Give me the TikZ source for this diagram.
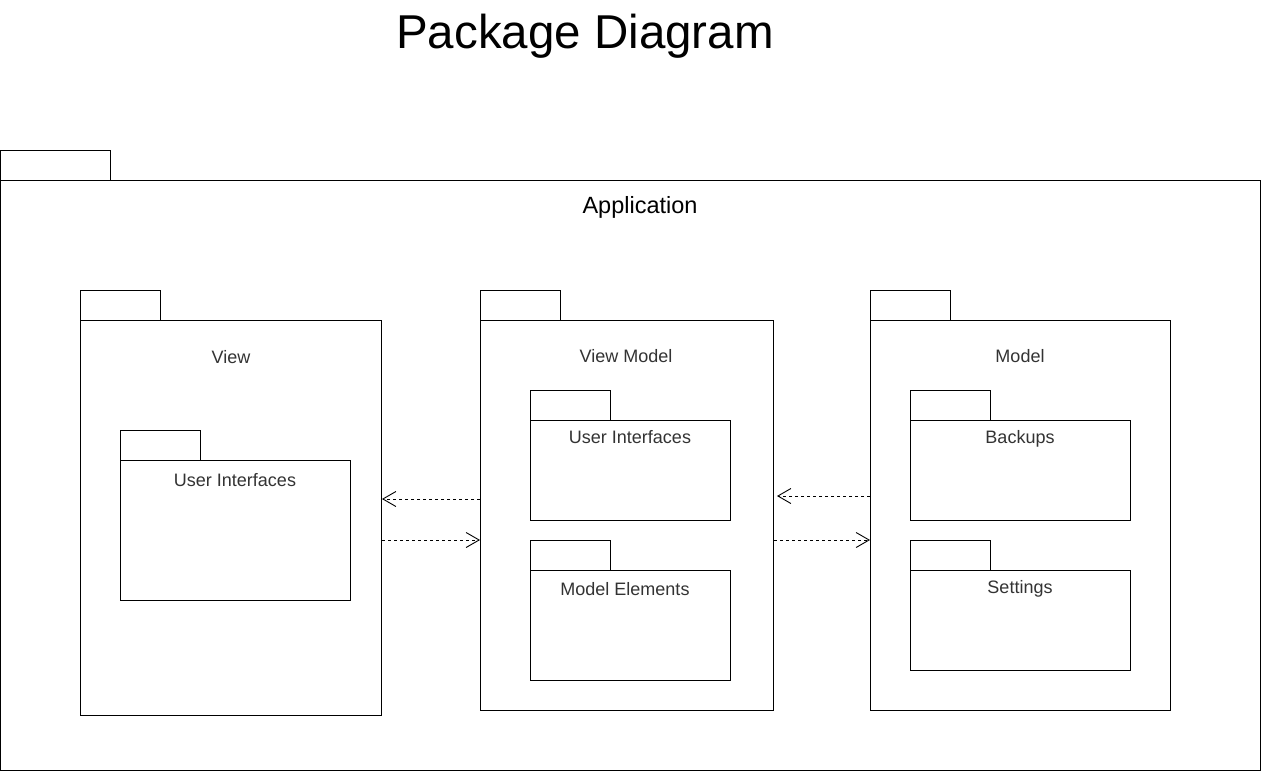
\documentclass[tikz,border=0pt]{standalone}
\usepackage{fontspec}
\setmainfont{Liberation Sans}
\usetikzlibrary{arrows.meta}
\definecolor{lbl}{HTML}{333333}
\tikzset{
  box/.style={draw=black, line width=1pt, inner sep=0pt, anchor=north west, fill=white},
  lab/.style={anchor=base, inner sep=0pt, text=lbl, font=\fontsize{18}{21}\selectfont},
  dep/.style={draw=black, line width=0.9pt, dash pattern=on 3pt off 3pt, -{Straight Barb[length=13pt,width=15pt,line width=0.9pt]}}
}
% \pkg{name}{x}{y of body top}{w}{h}{tab width}
\newcommand{\pkg}[6]{%
  \node[box, minimum width=#6pt, minimum height=30pt] (#1-tab) at (#2pt,-#3pt+30pt) {};
  \node[box, minimum width=#4pt, minimum height=#5pt] (#1) at (#2pt,-#3pt) {};
}
\begin{document}
\begin{tikzpicture}[x=1pt,y=1pt]
\useasboundingbox (0,0) rectangle (1261,-771);
\node[anchor=base, inner sep=0pt, font=\fontsize{47.5}{56}\selectfont] (title) at (585,-48) {Package Diagram};
\pkg{app}{0}{180}{1260}{590}{110}
\node[anchor=base, inner sep=0pt, font=\fontsize{23.5}{28}\selectfont] (applab) at (640,-213) {Application};
% View
\pkg{view}{80}{320}{301}{395}{80}
\node[lab] (viewlab) at (231,-363) {View};
\pkg{vui}{120}{460}{230}{140}{80}
\node[lab] (vuilab) at (235,-486) {User Interfaces};
% View Model
\pkg{vm}{480}{320}{293}{390}{80}
\node[lab] (vmlab) at (626,-362) {View Model};
\pkg{vmui}{530}{420}{200}{100}{80}
\node[lab] (vmuilab) at (630,-443) {User Interfaces};
\pkg{vme}{530}{570}{200}{110}{80}
\node[lab] (vmelab) at (625,-595) {Model Elements};
% Model
\pkg{model}{870}{320}{300}{390}{80}
\node[lab] (modellab) at (1020,-362) {Model};
\pkg{bk}{910}{420}{220}{100}{80}
\node[lab] (bklab) at (1020,-443) {Backups};
\pkg{st}{910}{570}{220}{100}{80}
\node[lab] (stlab) at (1020,-593) {Settings};
% dependencies
\draw[dep] (vm.west |- 0,-499) -- (view.east |- 0,-499);
\draw[dep] (view.east |- 0,-540) -- (vm.west |- 0,-540);
\draw[dep] (model.west |- 0,-496) -- ([xshift=3pt]vm.east |- 0,-496);
\draw[dep] (vm.east |- 0,-540) -- (model.west |- 0,-540);
\end{tikzpicture}
\end{document}
